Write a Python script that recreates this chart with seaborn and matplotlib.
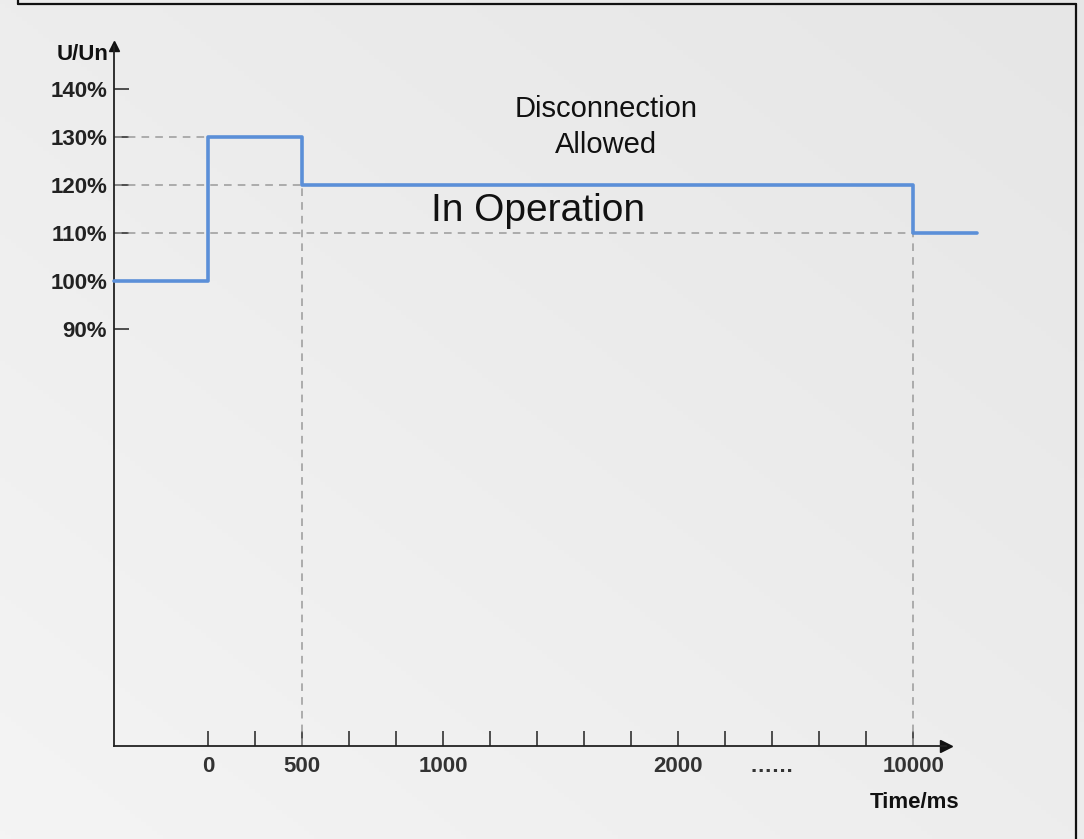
import numpy as np
import pandas as pd
import matplotlib
matplotlib.use("Agg")
import matplotlib.pyplot as plt
from matplotlib.lines import Line2D
import seaborn as sns

sns.set_theme(style="white")
plt.rcParams['font.family'] = ['Liberation Sans', 'DejaVu Sans']

# schematic time axis: tick index -> label
time_pos = [0, 2, 5, 10, 12, 15]
time_labels = ["0", "500", "1000", "2000", "\u2026\u2026", "10000"]

# voltage ticks (U/Un, %)
u_ticks = [90, 100, 110, 120, 130, 140]

# step curve: positions on schematic axis and U/Un levels
step_pos = [-2, 0, 2, 15, 16.35]
step_u = [100, 130, 120, 110, 110]

df = pd.DataFrame({"pos": step_pos, "u": step_u})

W, H = 1084, 839
fig = plt.figure(figsize=(W / 100, H / 100), dpi=100)

# light grey gradient background
bg = fig.add_axes([0, 0, 1, 1], zorder=-10)
gx, gy = np.meshgrid(np.linspace(0, 1, 200), np.linspace(0, 1, 200))
grad = 0.5 * gx + 0.5 * gy
bg.imshow(grad, cmap=sns.blend_palette(["#f4f4f4", "#e6e6e6"], as_cmap=True),
          extent=[0, 1, 0, 1], origin="lower", aspect="auto")
bg.axis("off")

# outer frame (left, top, right)
for xs, ys in [([18, 18], [0, 4]), ([18, 1076], [4, 4]), ([1076, 1076], [4, H])]:
    fig.add_artist(Line2D([x / W for x in xs], [1 - y / H for y in ys],
                          color="#111111", lw=1.6))

x0, x1 = -2, 15.7
y0, y1 = 3.3, 149
ax = fig.add_axes([114 / W, 1 - 746 / H, (946 - 114) / W, (746 - 46) / H])
ax.set_facecolor("none")
ax.set_xlim(x0, x1)
ax.set_ylim(y0, y1)

# dashed guide lines
guide = dict(color="#9a9a9a", lw=1.1, ls=(0, (5, 4)), zorder=1)
ax.plot([x0, 0], [130, 130], **guide)
ax.plot([x0, 2], [120, 120], **guide)
ax.plot([x0, 15], [110, 110], **guide)
ax.plot([2, 2], [y0, 120], **guide)
ax.plot([15, 15], [y0, 110], **guide)

sns.lineplot(data=df, x="pos", y="u", drawstyle="steps-post", estimator=None,
             sort=False, color="#5b8fd8", lw=2.6, ax=ax, clip_on=False, zorder=3)

# spines with arrows
for s in ["top", "right"]:
    ax.spines[s].set_visible(False)
for s in ["left", "bottom"]:
    ax.spines[s].set_color("#222222")
    ax.spines[s].set_linewidth(1.3)
ax.plot(1, 0, ">", color="#111111", ms=9, transform=ax.transAxes, clip_on=False)
ax.plot(0, 1, "^", color="#111111", ms=7, transform=ax.transAxes, clip_on=False)

ax.set_xticks(range(0, 16))
lab = {p: t for p, t in zip(time_pos, time_labels)}
ax.set_xticklabels([lab.get(i, "") for i in range(0, 16)])
ax.set_yticks(u_ticks)
ax.set_yticklabels([f"{v}%" for v in u_ticks])
ax.tick_params(axis="x", bottom=True, direction="in", length=11, width=1.1,
               color="#222222", pad=7, labelsize=16, labelcolor="#333333")
ax.tick_params(axis="y", left=True, direction="in", length=11, width=1.1,
               color="#222222", pad=5, labelsize=16, labelcolor="#222222")
for t in ax.get_xticklabels() + ax.get_yticklabels():
    t.set_fontweight("bold")
ax.set_xlabel("")
ax.set_ylabel("")

fig.text(109 / W, 1 - 55 / H, "U/Un", ha="right", va="center",
         fontsize=16, fontweight="bold", color="#111111")
fig.text(915 / W, 1 - 802 / H, "Time/ms", ha="center", va="center",
         fontsize=16, fontweight="bold", color="#111111")

fig.text(606 / W, 1 - 127 / H, "Disconnection\nAllowed", ha="center", va="center",
         fontsize=21, color="#111111", linespacing=1.35)
fig.text(538 / W, 1 - 211 / H, "In Operation", ha="center", va="center",
         fontsize=28, color="#111111")

fig.savefig("out.png", dpi=100)
